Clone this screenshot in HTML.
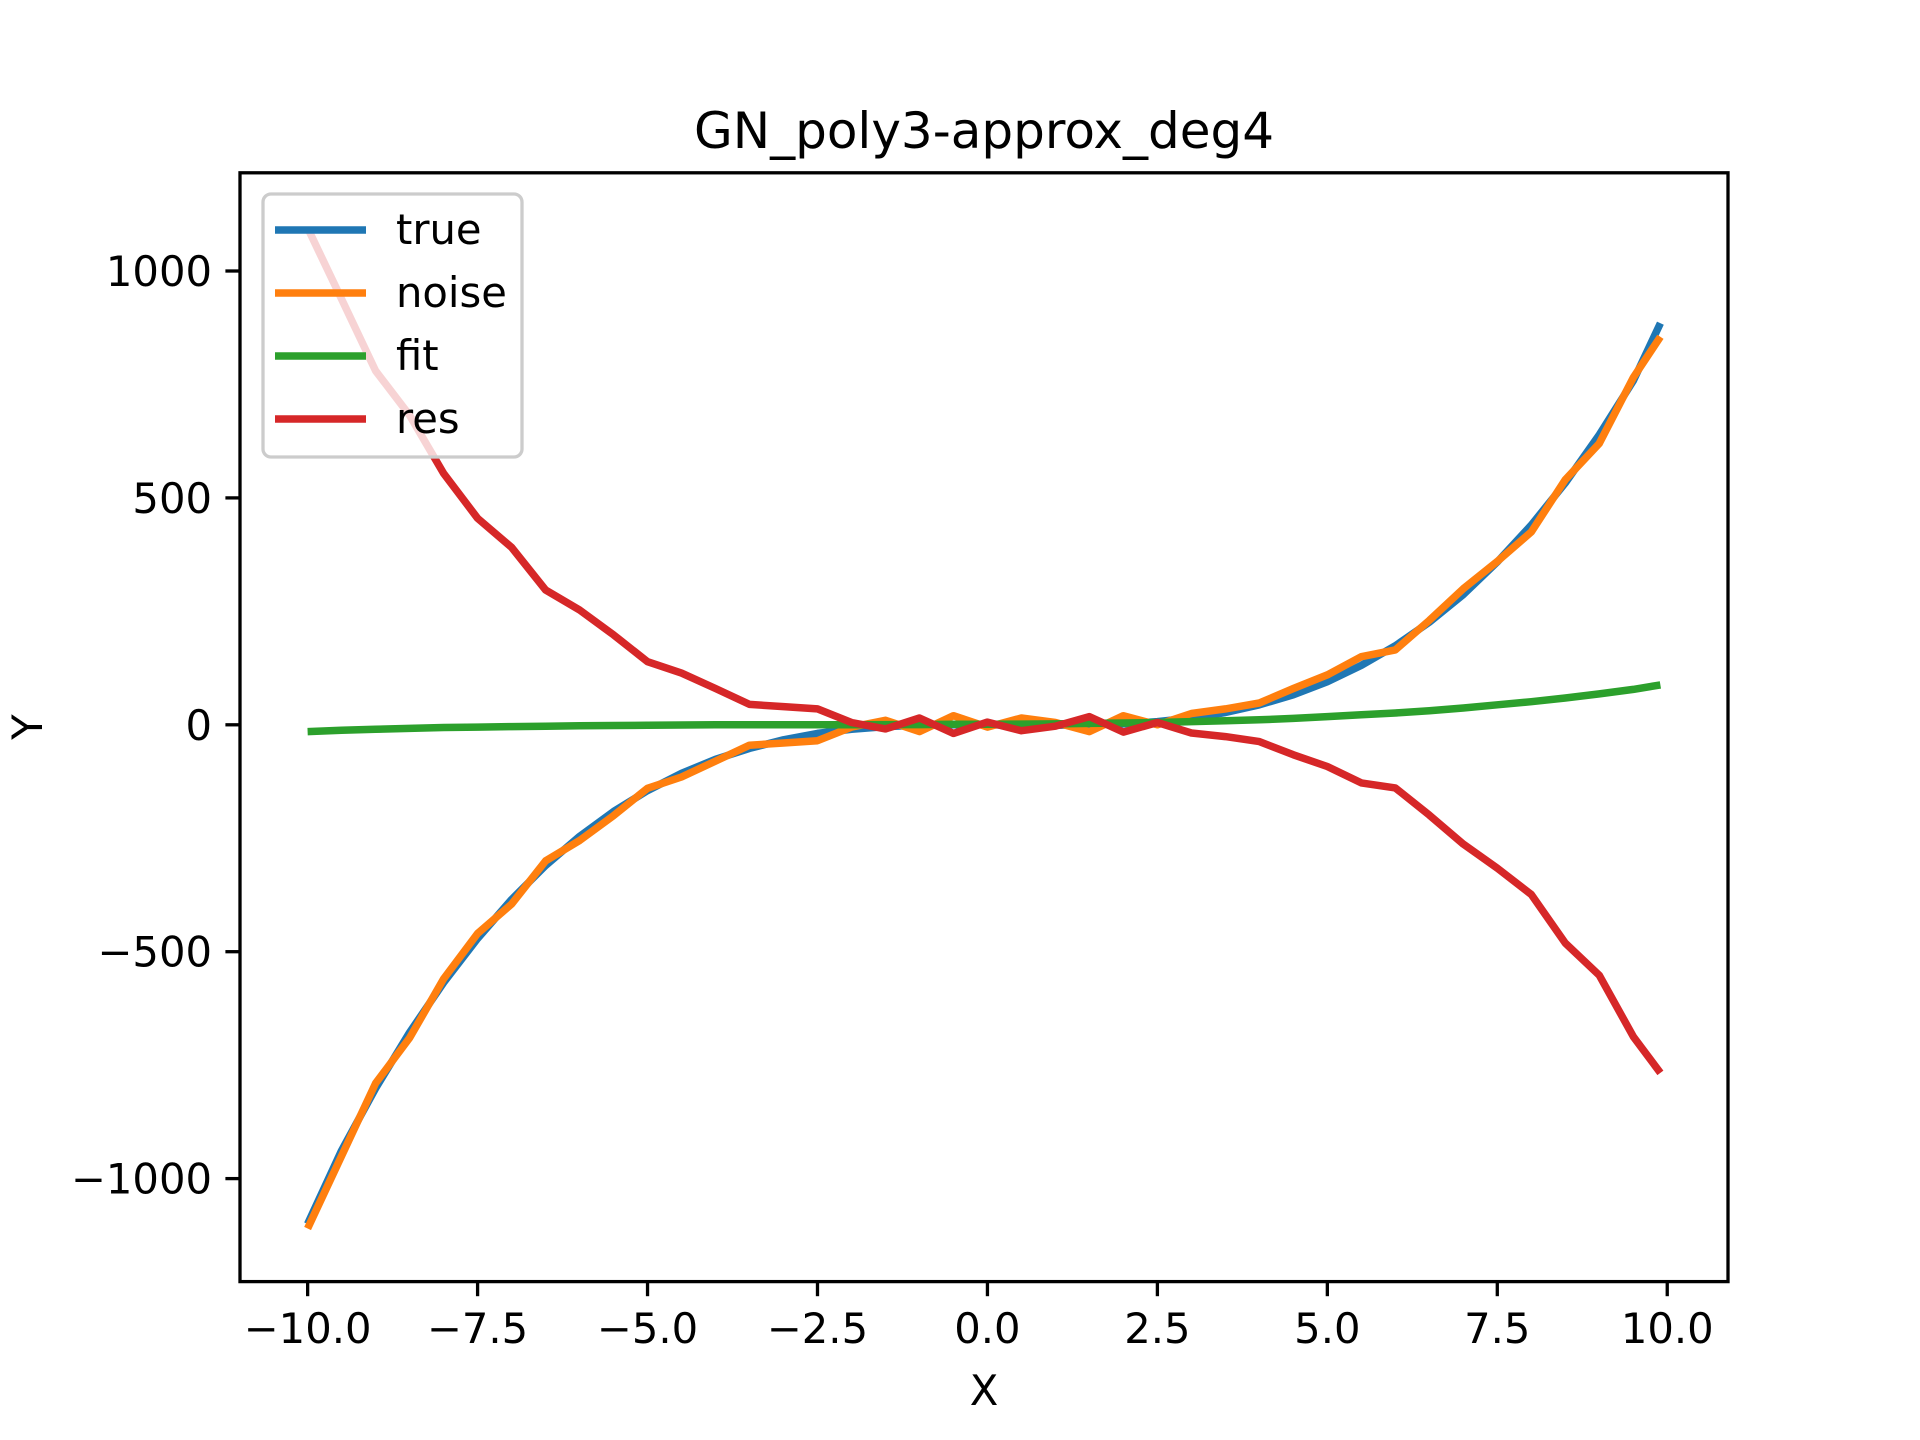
<!DOCTYPE html>
<html><head><meta charset="utf-8"><style>
html,body{margin:0;padding:0;background:#fff;}
svg{display:block;font-family:"DejaVu Sans","Liberation Sans",sans-serif;}
</style></head><body>
<svg id="chart" width="1920" height="1440" viewBox="0 0 1920 1440">
<rect width="1920" height="1440" fill="#fff"/>
<g id="plot"></g>
<rect x="240" y="172.8" width="1488" height="1108.8" fill="none" stroke="#000" stroke-width="3.3"/>
<g id="xt"></g>
<g id="yt"></g>
<text x="984" y="148" font-size="50" text-anchor="middle">GN_poly3-approx_deg4</text>
<text x="984" y="1405" font-size="41.7" text-anchor="middle">X</text>
<text x="0" y="0" font-size="41.7" text-anchor="middle" transform="translate(42,727) rotate(-90)">Y</text>
<g>
<rect x="263" y="194" width="259" height="263" rx="8" fill="#fff" fill-opacity="0.8" stroke="#ccc" stroke-width="3.3"/>
<g id="leg"></g>
</g>
</svg>
<script>
const xs = [-10,-9.5,-9,-8.5,-8,-7.5,-7,-6.5,-6,-5.5,-5,-4.5,-4,-3.5,-3,-2.5,-2,-1.5,-1,-0.5,0,0.5,1,1.5,2,2.5,3,3.5,4,4.5,5,5.5,6,6.5,7,7.5,8,8.5,9,9.5,9.9];
const trueVals = [-1100,-938,-801,-678,-568,-471,-385,-310,-246,-191,-145,-107,-76,-52,-33,-19,-10,-4,-1,0,0,-1,-1,0,2,7,15,27,44,66,95,131,174,226,287,359,440,533,639,758,885];
const noiseVals = [-1110,-950,-790,-690,-560,-460,-395,-300,-255,-200,-140,-115,-80,-45,-40,-35,-5,10,-15,20,-5,15,5,-15,20,0,25,35,48,80,110,150,165,230,300,360,425,540,620,765,855];
const fitVals = [-15,-12,-10,-8,-6,-5,-4,-3,-2,-1.5,-1,-0.5,0,0,0,0,0,0.5,0.5,1,1,1.5,2,3,4,5,7,9,11,14,18,22,26,31,37,44,51,59,68,78,88];
const resVals = [1095,938,780,682,554,455,391,297,253,198,139,114,80,45,40,35,5,-9,15,-19,6,-13,-3,18,-16,5,-18,-26,-37,-66,-92,-128,-139,-199,-263,-316,-374,-481,-552,-687,-767];
const xTicks = [-10,-7.5,-5,-2.5,0,2.5,5,7.5,10];
const xTickLabels = ["\u221210.0","\u22127.5","\u22125.0","\u22122.5","0.0","2.5","5.0","7.5","10.0"];
const yTicks = [-1000,-500,0,500,1000];
const yTickLabels = ["\u22121000","\u2212500","0","500","1000"];
const seriesNames = ["true","noise","fit","res"];
const colors = ["#1f77b4","#ff7f0e","#2ca02c","#d62728"];

const NS="http://www.w3.org/2000/svg";
const X = v => 240 + (v + 10.995) * 67.98;
const Y = v => 724.8 - v * 0.4538;
const plot = document.getElementById('plot');
[trueVals, noiseVals, fitVals, resVals].forEach((arr, i) => {
  const p = document.createElementNS(NS, 'polyline');
  p.setAttribute('points', arr.map((v, j) => X(xs[j]).toFixed(1) + ',' + Y(v).toFixed(1)).join(' '));
  p.setAttribute('fill', 'none');
  p.setAttribute('stroke', colors[i]);
  p.setAttribute('stroke-width', '7.5');
  p.setAttribute('stroke-linejoin', 'round');
  
  
  plot.appendChild(p);
});
const xt = document.getElementById('xt');
xTicks.forEach((t, i) => {
  const l = document.createElementNS(NS, 'line');
  l.setAttribute('x1', X(t)); l.setAttribute('x2', X(t));
  l.setAttribute('y1', 1281.6); l.setAttribute('y2', 1296.2);
  l.setAttribute('stroke', '#000'); l.setAttribute('stroke-width', '3.3');
  
  
  xt.appendChild(l);
  const tx = document.createElementNS(NS, 'text');
  tx.setAttribute('x', X(t)); tx.setAttribute('y', 1343);
  tx.setAttribute('font-size', '41.7'); tx.setAttribute('text-anchor', 'middle');
  tx.textContent = xTickLabels[i];
  
  
  xt.appendChild(tx);
});
const yt = document.getElementById('yt');
yTicks.forEach((t, i) => {
  const l = document.createElementNS(NS, 'line');
  l.setAttribute('x1', 225.4); l.setAttribute('x2', 240);
  l.setAttribute('y1', Y(t)); l.setAttribute('y2', Y(t));
  l.setAttribute('stroke', '#000'); l.setAttribute('stroke-width', '3.3');
  
  
  yt.appendChild(l);
  const tx = document.createElementNS(NS, 'text');
  tx.setAttribute('x', 212); tx.setAttribute('y', Y(t) + 15);
  tx.setAttribute('font-size', '41.7'); tx.setAttribute('text-anchor', 'end');
  tx.textContent = yTickLabels[i];
  
  
  yt.appendChild(tx);
});
const leg = document.getElementById('leg');
seriesNames.forEach((n, i) => {
  const y = 230 + i * 63;
  const l = document.createElementNS(NS, 'line');
  l.setAttribute('x1', 275); l.setAttribute('x2', 366);
  l.setAttribute('y1', y); l.setAttribute('y2', y);
  l.setAttribute('stroke', colors[i]); l.setAttribute('stroke-width', '7.5');
  
  
  leg.appendChild(l);
  const tx = document.createElementNS(NS, 'text');
  tx.setAttribute('x', 396); tx.setAttribute('y', y + 14);
  tx.setAttribute('font-size', '41.7');
  tx.textContent = n;
  
  
  leg.appendChild(tx);
});
</script>
</body></html>
